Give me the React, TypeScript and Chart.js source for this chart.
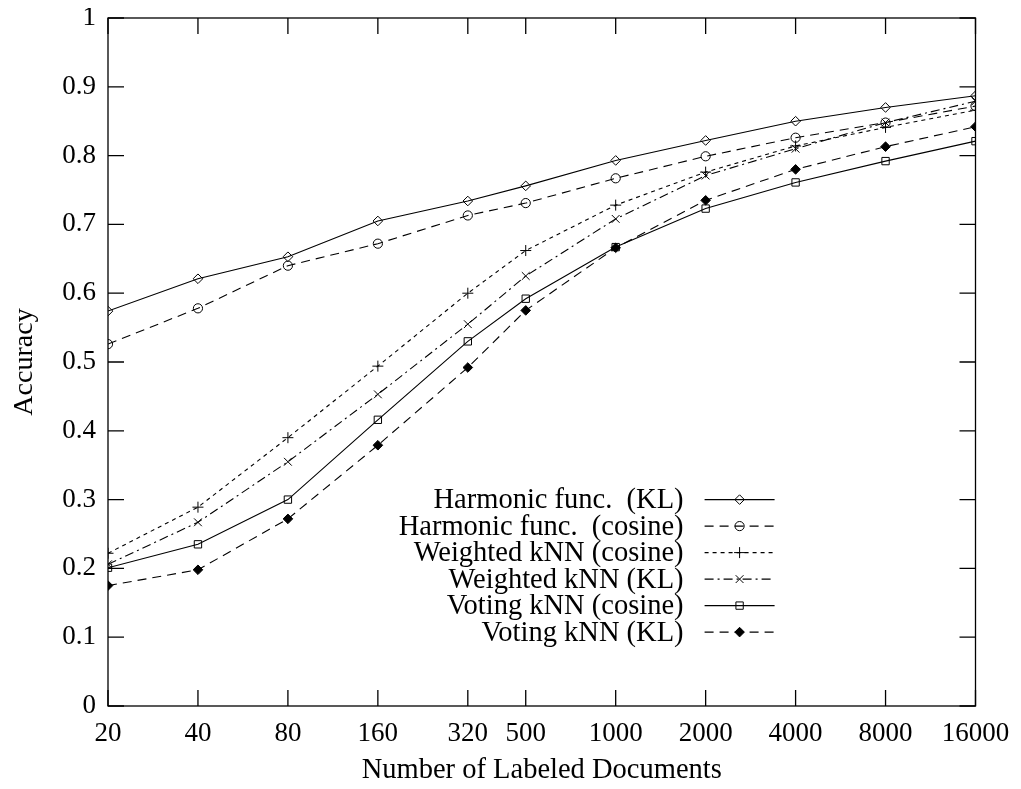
import React, { useEffect, useRef } from "react";
import { Chart, registerables } from "chart.js";

Chart.register(...registerables);

// ---- data ----
const docCounts = [20, 40, 80, 160, 320, 500, 1000, 2000, 4000, 8000, 16000];
const yTickValues = [0, 0.1, 0.2, 0.3, 0.4, 0.5, 0.6, 0.7, 0.8, 0.9, 1];
const seriesNames = [
  "Harmonic func.  (KL)",
  "Harmonic func.  (cosine)",
  "Weighted kNN (cosine)",
  "Weighted kNN (KL)",
  "Voting kNN (cosine)",
  "Voting kNN (KL)",
];
const harmonicKL = [0.574, 0.621, 0.653, 0.705, 0.734, 0.756, 0.793, 0.822, 0.85, 0.87, 0.887];
const harmonicCosine = [0.526, 0.578, 0.64, 0.672, 0.713, 0.731, 0.767, 0.799, 0.826, 0.848, 0.872];
const weightedCosine = [0.222, 0.289, 0.39, 0.494, 0.6, 0.662, 0.728, 0.776, 0.814, 0.841, 0.866];
const weightedKL = [0.206, 0.267, 0.355, 0.453, 0.555, 0.625, 0.708, 0.771, 0.81, 0.848, 0.879];
const votingCosine = [0.201, 0.235, 0.3, 0.416, 0.53, 0.592, 0.667, 0.723, 0.761, 0.792, 0.821];
const votingKL = [0.175, 0.198, 0.272, 0.379, 0.492, 0.575, 0.666, 0.735, 0.78, 0.813, 0.842];

const FONT = "'Liberation Serif', 'Times New Roman', serif";

type Style = {
  dash: number[];
  point: string;
  radius: number;
  filled: boolean;
};
const styles: Style[] = [
  { dash: [], point: "rectRot", radius: 4.8, filled: false },
  { dash: [9, 6], point: "circle", radius: 4.6, filled: false },
  { dash: [4, 4], point: "cross", radius: 5.5, filled: false },
  { dash: [9, 4, 2, 4], point: "crossRot", radius: 5.5, filled: false },
  { dash: [], point: "rect", radius: 5.2, filled: false },
  { dash: [9, 6], point: "rectRot", radius: 4.8, filled: true },
];
const allSeries = [harmonicKL, harmonicCosine, weightedCosine, weightedKL, votingCosine, votingKL];

function drawMarker(ctx: CanvasRenderingContext2D, kind: string, x: number, y: number, r: number, filled: boolean) {
  ctx.save();
  ctx.setLineDash([]);
  ctx.lineWidth = 1;
  ctx.strokeStyle = "#000";
  ctx.fillStyle = "#000";
  ctx.beginPath();
  if (kind === "rectRot") {
    ctx.moveTo(x, y - r);
    ctx.lineTo(x + r, y);
    ctx.lineTo(x, y + r);
    ctx.lineTo(x - r, y);
    ctx.closePath();
  } else if (kind === "circle") {
    ctx.arc(x, y, r, 0, Math.PI * 2);
  } else if (kind === "cross") {
    ctx.moveTo(x - r, y);
    ctx.lineTo(x + r, y);
    ctx.moveTo(x, y - r);
    ctx.lineTo(x, y + r);
  } else if (kind === "crossRot") {
    const d = r * Math.SQRT1_2;
    ctx.moveTo(x - d, y - d);
    ctx.lineTo(x + d, y + d);
    ctx.moveTo(x + d, y - d);
    ctx.lineTo(x - d, y + d);
  } else if (kind === "rect") {
    const s = r * Math.SQRT1_2;
    ctx.rect(x - s, y - s, 2 * s, 2 * s);
  }
  if (filled) ctx.fill();
  ctx.stroke();
  ctx.restore();
}

const framePlugin = {
  id: "gnuplotFrame",
  afterDraw(chart: any) {
    const { ctx, chartArea } = chart;
    const { left, right, top, bottom } = chartArea;
    const xs = chart.scales.x;
    const ys = chart.scales.y;
    const tick = 16;
    ctx.save();
    ctx.strokeStyle = "#000";
    ctx.lineWidth = 1.3;
    ctx.setLineDash([]);
    ctx.strokeRect(left, top, right - left, bottom - top);
    ctx.beginPath();
    yTickValues.forEach((v) => {
      const py = ys.getPixelForValue(v);
      ctx.moveTo(left, py);
      ctx.lineTo(left + tick, py);
      ctx.moveTo(right, py);
      ctx.lineTo(right - tick, py);
    });
    docCounts.forEach((v) => {
      const px = xs.getPixelForValue(v);
      ctx.moveTo(px, bottom);
      ctx.lineTo(px, bottom - tick);
      ctx.moveTo(px, top);
      ctx.lineTo(px, top + tick);
    });
    ctx.stroke();

    // legend
    const textRight = left + (right - left) * 0.6635;
    const lineX1 = textRight + 21;
    const lineX2 = textRight + 91;
    const midX = (lineX1 + lineX2) / 2;
    const startY = ys.getPixelForValue(0.3);
    const step = 26.5;
    ctx.font = `28.5px ${FONT}`;
    ctx.textAlign = "right";
    ctx.textBaseline = "middle";
    ctx.fillStyle = "#000";
    seriesNames.forEach((name, i) => {
      const y = startY + i * step;
      ctx.fillText(name, textRight, y + 1);
      const st = styles[i];
      ctx.save();
      ctx.lineWidth = 1.1;
      ctx.setLineDash(st.dash);
      ctx.beginPath();
      ctx.moveTo(lineX1, y);
      ctx.lineTo(lineX2, y);
      ctx.stroke();
      ctx.restore();
      drawMarker(ctx, st.point, midX, y, st.radius, st.filled);
    });
    ctx.restore();
  },
};

export default function App() {
  const ref = useRef<HTMLCanvasElement | null>(null);
  useEffect(() => {
    if (!ref.current) return;
    const datasets = allSeries.map((vals, i) => {
      const st = styles[i];
      return {
        label: seriesNames[i],
        data: docCounts.map((x, j) => ({ x, y: vals[j] })),
        borderColor: "#000",
        borderWidth: 1.1,
        borderDash: st.dash,
        backgroundColor: "#000",
        pointStyle: st.point,
        pointRadius: st.radius,
        pointBorderWidth: 1,
        pointBorderColor: "#000",
        pointBackgroundColor: st.filled ? "#000" : "rgba(0,0,0,0)",
        tension: 0,
        fill: false,
      };
    });
    const chart = new Chart(ref.current, {
      type: "line",
      data: { datasets },
      options: {
        responsive: false,
        animation: false,
        devicePixelRatio: 1,
        layout: { padding: { top: 10, right: 37.5, left: 0, bottom: 0 } },
        plugins: { legend: { display: false }, tooltip: { enabled: false } },
        scales: {
          x: {
            type: "logarithmic",
            min: 20,
            max: 16000,
            grid: { display: false, drawTicks: false },
            border: { display: false },
            afterBuildTicks: (scale: any) => {
              scale.ticks = docCounts.map((v) => ({ value: v }));
            },
            afterFit: (scale: any) => {
              scale.height = 75;
              scale.paddingLeft = 0;
              scale.paddingRight = 0;
            },
            ticks: {
              autoSkip: false,
              maxRotation: 0,
              minRotation: 0,
              padding: 12,
              color: "#000",
              font: { family: FONT, size: 27 },
              callback: (v: any) => String(v),
            },
            title: {
              display: true,
              text: "Number of Labeled Documents",
              color: "#000",
              font: { family: FONT, size: 28.5, lineHeight: 1 },
              padding: { top: 0, bottom: -4 },
            },
          },
          y: {
            type: "linear",
            min: 0,
            max: 1,
            grid: { display: false, drawTicks: false },
            border: { display: false },
            afterBuildTicks: (scale: any) => {
              scale.ticks = yTickValues.map((v) => ({ value: v }));
            },
            afterFit: (scale: any) => {
              scale.width = 100;
              scale.paddingTop = 0;
              scale.paddingBottom = 0;
            },
            ticks: {
              padding: 12,
              color: "#000",
              font: { family: FONT, size: 27 },
              callback: (v: any) => (v === 0 ? "0" : v === 1 ? "1" : Number(v).toFixed(1)),
            },
            title: {
              display: true,
              text: "Accuracy",
              color: "#000",
              font: { family: FONT, size: 28, lineHeight: 1 },
              padding: { top: 3, bottom: 0 },
            },
          },
        },
      } as any,
      plugins: [framePlugin],
    });
    return () => chart.destroy();
  }, []);
  return (
    <div style={{ width: 1005, height: 773 }}>
      <canvas ref={ref} width={1005} height={773} style={{ display: "block", width: 1005, height: 773 }} />
    </div>
  );
}
